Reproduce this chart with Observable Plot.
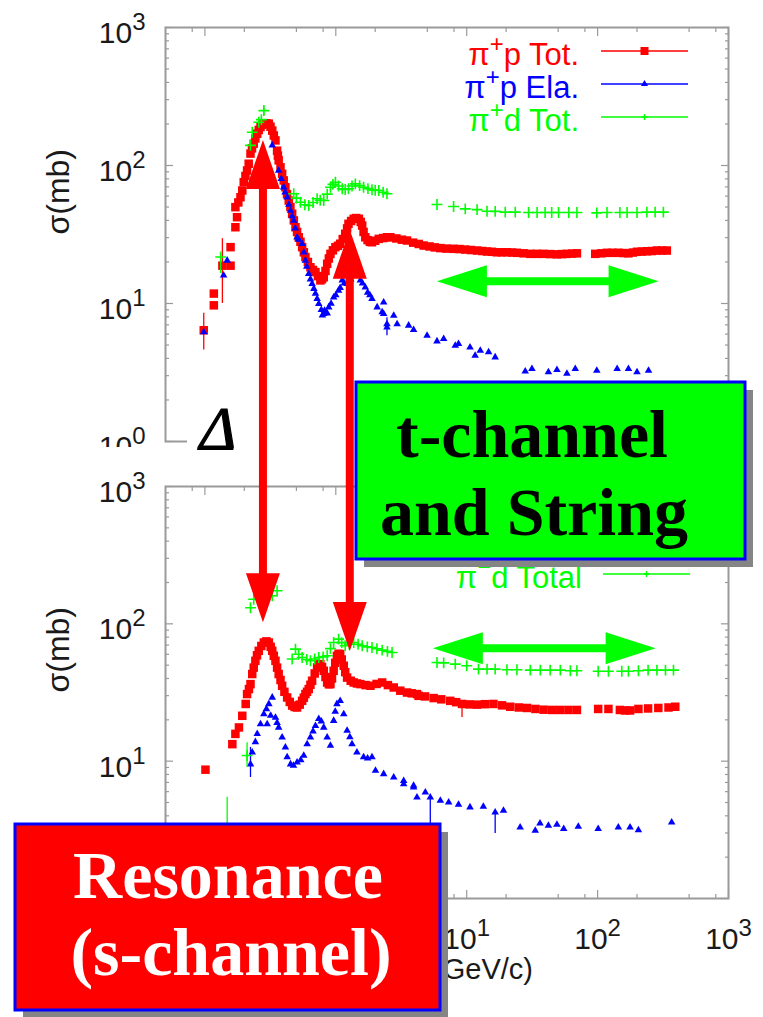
<!DOCTYPE html>
<html>
<head>
<meta charset="utf-8">
<script src="https://cdn.jsdelivr.net/npm/d3@7"></script>
<script src="https://cdn.jsdelivr.net/npm/@observablehq/plot@0.6"></script>
<style>
html,body{margin:0;padding:0;background:#fff;}
#wrap{position:relative;width:763px;height:1017px;overflow:hidden;background:#fff;}
#top{position:absolute;left:0;top:0;width:763px;height:447px;overflow:hidden;}
#bot{position:absolute;left:0;top:447px;width:763px;height:570px;overflow:hidden;background:#fff;}
#ov{position:absolute;left:0;top:0;pointer-events:none;}
</style>
</head>
<body>
<div id="wrap"><div id="top"></div><div id="bot"></div><svg id="ov" width="763" height="1017" xmlns="http://www.w3.org/2000/svg"></svg></div>
<script>
// ---------------- axes / ticks ----------------
const xDomain = [0.05, 1000];
const yDomain = [1, 1000];
const xDecades = [0.1, 1, 10, 100, 1000];
const yDecades = [1, 10, 100, 1000];
const xMinor = [0.08, 0.2, 0.5, 0.8, 2, 5, 8, 20, 50, 80, 200, 500, 800];
const yMinor = [2, 3, 4, 5, 6, 7, 8, 9, 20, 30, 40, 50, 60, 70, 80, 90, 200, 300, 400, 500, 600, 700, 800, 900];
// tick labels that are visible (the others sit under the annotation box)
const topYLabels = [1, 10, 100, 1000];
const botYLabels = [10, 100, 1000];
const botXLabels = [10, 100, 1000];
const yLabel = "σ(mb)";
const xLabel = "p_lab (GeV/c)";

// ---------------- data: top panel (π+) [p (GeV/c), σ (mb)] ----------------
const pipTotal = [[0.098,6.4],[0.117,11.8],[0.117,9.7],[0.136,18.8],[0.157,18.8],[0.157,25.6],[0.171,35.7],[0.176,42.2],[0.171,49.9],[0.180,54],[0.187,58.9],[0.193,65.9],[0.198,75.7],[0.204,84],[0.210,92],[0.216,103],[0.223,122],[0.229,133],[0.236,144],[0.243,157],[0.251,170],[0.258,181],[0.266,190],[0.274,197],[0.282,201],[0.295,202],[0.308,201],[0.317,191],[0.327,179],[0.336,165],[0.346,152],[0.356,128],[0.361,118],[0.366,109],[0.378,97],[0.389,87],[0.400,78],[0.412,69.6],[0.424,62],[0.437,55.7],[0.450,50],[0.464,44.7],[0.478,40],[0.492,35.7],[0.506,33],[0.521,30.2],[0.537,28],[0.553,25.6],[0.570,23.5],[0.586,21.7],[0.612,20],[0.640,18.3],[0.669,17.5],[0.699,16.9],[0.730,15.8],[0.762,14.7],[0.785,15],[0.809,15.5],[0.834,17.2],[0.859,19.4],[0.885,21.2],[0.910,22.9],[0.950,24.3],[0.993,25.6],[1.04,26.2],[1.08,27.1],[1.13,29.3],[1.18,32.0],[1.22,35],[1.25,37.8],[1.31,39.6],[1.37,41.1],[1.43,41.6],[1.50,41.1],[1.55,39],[1.59,36.7],[1.63,33],[1.68,30.2],[1.75,28.8],[1.82,28],[1.89,27.8],[2.0,28.5],[2.13,29.4],[2.3,29.8],[2.46,30.2],[2.61,30.2],[2.9,29.6],[3.2,29],[3.5,28.6],[3.9,27.6],[4.3,27],[4.69,26.3],[5.2,25.9],[5.7,25.5],[6.29,25.2],[7.0,25],[7.94,24.9],[8.8,24.8],[9.75,24.6],[10.8,24.4],[12.0,24.2],[13.2,24],[14.3,23.8],[15.6,23.7],[17.0,23.5],[18.5,23.5],[20.3,23.5],[22.2,23.4],[24.2,23.3],[27.2,23.1],[30.6,22.9],[34.4,22.9],[38.6,22.9],[43.5,22.8],[48.9,22.7],[53.5,22.8],[58.3,22.9],[64,23],[69.5,23.1],[95.9,22.9],[107,23.1],[118,23.3],[130,23.3],[144,23.3],[158,23.2],[172,23.1],[186,23.4],[200,23.7],[218,23.8],[238,23.9],[260,24],[284,24.2],[310,24.2],[338,24.2]];
const pipElastic = [[0.098,6.2],[0.139,16],[0.148,20.5],[0.327,140],[0.366,92],[0.383,80],[0.400,69.6],[0.41,64],[0.425,58.9],[0.438,52],[0.451,47.2],[0.464,43],[0.477,39.9],[0.49,35],[0.506,30.2],[0.52,29],[0.553,27.1],[0.57,23.5],[0.586,20.5],[0.6,18.5],[0.621,16.4],[0.64,15],[0.659,13.9],[0.68,12.8],[0.699,11.8],[0.72,10.8],[0.741,9.95],[0.775,9],[0.79,8.2],[0.809,8.42],[0.82,8.9],[0.845,8.6],[0.86,8.5],[0.883,9.4],[0.92,10],[0.963,11.1],[1.0,11.5],[1.05,12.4],[1.08,13],[1.12,14.7],[1.16,14],[1.22,13.9],[1.26,15.2],[1.30,15],[1.37,16],[1.45,16.5],[1.54,14.7],[1.6,14],[1.68,13.1],[1.75,12],[1.82,11.5],[1.89,10.8],[2.07,9.4],[2.26,8.65],[2.32,10.2],[2.32,8.42],[2.46,7.1],[2.46,6.73],[2.77,8.18],[2.94,7.1],[3.60,6.93],[3.93,6.45],[4.98,5.86],[5.93,5.33],[6.67,5.55],[8.18,4.96],[8.66,5.1],[10.6,4.82],[11.6,4.2],[12.7,4.56],[14.7,4.44],[16.5,4.08],[28.0,3.23],[31.5,3.36],[42.1,3.18],[48.9,3.31],[58.3,3.1],[67.5,3.36],[98.6,3.27],[141,3.36],[172,3.36],[200,3.18],[245,3.27]];
const pidTotalPlus = [[0.132,21.7],[0.223,140],[0.230,174],[0.258,206],[0.27,215],[0.282,250],[0.477,62.4],[0.50,58],[0.537,54.2],[0.58,52],[0.621,51.3],[0.67,54],[0.720,57.4],[0.76,56],[0.809,55.7],[0.86,62],[0.910,69.6],[0.95,73],[0.993,75.7],[1.05,71],[1.12,67.8],[1.18,67],[1.25,67.8],[1.33,71],[1.41,73.6],[1.52,71.5],[1.63,69.6],[1.76,68],[1.89,66.7],[2.0,66.2],[2.13,65.9],[2.3,64],[2.46,62.4],[5.93,52.2],[7.94,50.5],[9.75,48.5],[12.0,47.9],[14.3,46.6],[16.5,46.5],[19.7,45.9],[23.5,45.9],[29.7,45.6],[34.5,45.6],[39.7,45.6],[44.6,45.6],[50.3,45.6],[60.2,45.6],[69.5,45.6],[98.6,45.4],[118,45.6],[148,45.6],[168,45.6],[200,45.6],[238,45.9],[275,45.9],[318,45.9]];
// error bars [p, low, high]
const pipTotalErr = [[0.098,4.6,8.5],[0.136,10,29.5]];
const pipElasticErr = [[2.46,5.85,7.9]];
const pidTotalPlusErr = [[0.132,16.5,23],[0.282,230,271]];

// ---------------- data: bottom panel (π−) ----------------
const pimTotal = [[0.101,8.67],[0.162,13.3],[0.171,15.8],[0.182,17.6],[0.193,21.4],[0.205,26.1],[0.210,30.8],[0.217,33.5],[0.223,36.4],[0.230,43.1],[0.236,48],[0.243,53.8],[0.250,59],[0.258,63.6],[0.270,69],[0.282,73.1],[0.295,74.5],[0.308,73.1],[0.318,68],[0.327,63.6],[0.336,58.5],[0.346,53.8],[0.356,48],[0.366,43.1],[0.378,39],[0.389,35.4],[0.405,32],[0.425,29.1],[0.445,27],[0.464,25.4],[0.485,24.8],[0.506,24.6],[0.53,25.8],[0.553,27.5],[0.57,29],[0.586,30.8],[0.603,32],[0.621,33.5],[0.64,36],[0.659,38.5],[0.69,43.5],[0.720,48.1],[0.740,50],[0.762,50.9],[0.785,48.5],[0.809,45.5],[0.834,41],[0.859,37.4],[0.885,36.3],[0.910,36.4],[0.935,40],[0.963,45.5],[0.99,52],[1.02,58.5],[1.05,60.5],[1.08,60.2],[1.11,55],[1.15,49.5],[1.18,44.5],[1.22,40.6],[1.30,38.5],[1.37,37.4],[1.45,36.8],[1.54,36.4],[1.69,35.8],[1.84,35.4],[2.05,36.5],[2.26,37.4],[2.5,35.8],[2.77,34.4],[3.11,32.6],[3.50,31.6],[3.8,31.2],[4.17,30.8],[4.29,29.9],[4.8,29.6],[5.59,28.8],[6.4,28.2],[7.49,27.5],[8.3,26.9],[9.21,26.1],[10.5,25.9],[12.0,25.8],[13.8,26],[16.0,26.1],[18.6,25.5],[21.5,24.9],[25,24.6],[28.9,24.4],[33.5,24],[38.7,23.7],[45,23.6],[51.9,23.6],[60,23.6],[69.5,23.6],[101,24.0],[121,24.0],[148,23.6],[162,23.4],[177,23.4],[205,24.0],[243,24.2],[291,24.4],[348,24.6],[392,24.9]];
const pimElastic = [[0.223,9.5],[0.230,11.6],[0.243,13.8],[0.251,15.8],[0.266,18.6],[0.282,22],[0.295,24],[0.308,26.1],[0.327,29.1],[0.299,18.6],[0.318,21.5],[0.346,20.8],[0.356,19],[0.366,17.6],[0.389,14.9],[0.412,12.6],[0.425,10.7],[0.451,9.5],[0.475,9.3],[0.506,9.8],[0.54,10.2],[0.569,11],[0.604,13.3],[0.640,14.9],[0.67,16.5],[0.699,18.1],[0.741,20.3],[0.775,19.5],[0.809,17.6],[0.859,14.9],[0.910,13],[0.963,19.7],[0.99,23],[1.02,26.1],[1.08,27.5],[1.15,22],[1.22,16.7],[1.28,15],[1.33,13.3],[1.45,11.6],[1.63,10.7],[1.75,10.5],[1.89,10.7],[2.01,8.53],[2.32,8.07],[2.77,7.62],[3.30,6.82],[3.30,7.2],[3.93,6.45],[3.93,6.63],[4.17,5.46],[4.83,5.92],[5.27,5.46],[6.29,5.16],[7.28,5.02],[8.66,4.83],[10.6,4.62],[13.4,4.67],[16.5,4.24],[19.1,4.37],[25.6,3.3],[33.4,3.12],[36.3,3.53],[42.1,3.39],[48.9,3.45],[55.1,3.21],[71.2,3.34],[101,3.21],[144,3.3],[177,3.3],[205,3.15],[368,3.58]];
const pidTotalMinus = [[0.210,11],[0.223,131],[0.236,151],[0.327,160],[0.356,174],[0.464,55.4],[0.492,65.4],[0.52,60],[0.553,56.9],[0.6,55],[0.640,53.8],[0.69,55.5],[0.741,56.9],[0.80,57.5],[0.859,58.5],[0.91,66],[0.963,73.1],[1.05,77.4],[1.11,73],[1.18,69.2],[1.27,71],[1.37,73.1],[1.48,71],[1.59,69.2],[1.74,68],[1.89,67.3],[2.06,65.8],[2.26,64.4],[2.48,63],[2.69,61.8],[5.93,52.3],[6.67,52],[8.18,50.9],[10.0,49.5],[12.3,46.8],[14.3,46.8],[16.5,46.8],[20.3,46.3],[24.2,46.3],[30.6,46],[36.5,46],[43.4,46],[51.9,46],[61.9,45.5],[69.5,45.5],[101,45.2],[121,45.2],[153,45.2],[172,45.2],[205,45.5],[243,46],[284,46],[330,46],[380,46]];
const pimTotalErr = [[9.21,20.8,27.5],[0.586,26,32]];
const pimElasticErr = [[0.223,7.6,12.6],[5.27,3.5,5.46],[16.5,2.97,4.24]];
const pidTotalMinusErr = [[0.210,9,13.6],[0.148,3.0,5.45]];

// ---------------- legends & annotations ----------------
const legendTop = [
  {pre: "π", sup: "+", post: "p Tot.", series: "total"},
  {pre: "π", sup: "+", post: "p Ela.", series: "elastic"},
  {pre: "π", sup: "+", post: "d Tot.", series: "deuteron"}
];
// only the last row of the lower legend is visible below the green box
const legendBottom = [
  {pre: "π", sup: "−", post: "d Total", series: "deuteron", row: 2}
];
// resonance arrows: momentum, σ at tip in top panel, σ at tip in bottom panel
const resonanceArrows = [{p: 0.280, topSigma: 152, botSigma: 102}, {p: 1.29, topSigma: 34, botSigma: 63}];
// string-region double arrows
const stringArrows = [{panel: "top", sigma: 14.4, p1: 5.97, p2: 295}, {panel: "bottom", sigma: 65.8, p1: 5.56, p2: 280}];
const boxGreenText = ["t-channel", "and String"];
const boxRedText = ["Resonance", "(s-channel)"];
const deltaLabel = "Δ";

// ---------------- styling ----------------
const RED = "#ff0000", BLUE = "#0000ff", GREEN = "#00ff00";
const FRAME = "#9a9a9a";
const SANS = "'Liberation Sans', Arial, Helvetica, sans-serif";
const SERIF = "'Liberation Serif', 'Times New Roman', serif";
const seriesColor = {total: RED, elastic: BLUE, deuteron: GREEN};

const powLabel = d => "10^" + Math.round(Math.log10(d));
const none = () => "";
const px = d => d[0], py = d => d[1];

function tickAxes() {
  const o = {label: null, tickFormat: none, stroke: FRAME, strokeWidth: 1.2};
  return [
    Plot.axisY({...o, anchor: "left", ticks: yDecades, tickSize: -8}),
    Plot.axisY({...o, anchor: "left", ticks: yMinor, tickSize: -4}),
    Plot.axisY({...o, anchor: "right", ticks: yDecades, tickSize: -8}),
    Plot.axisY({...o, anchor: "right", ticks: yMinor, tickSize: -4}),
    Plot.axisX({...o, anchor: "top", ticks: xDecades, tickSize: -8}),
    Plot.axisX({...o, anchor: "top", ticks: xMinor, tickSize: -4}),
    Plot.axisX({...o, anchor: "bottom", ticks: xDecades, tickSize: -8}),
    Plot.axisX({...o, anchor: "bottom", ticks: xMinor, tickSize: -4})
  ];
}

function panel(cfg) {
  const marks = [
    Plot.frame({stroke: FRAME, strokeWidth: 2}),
    ...tickAxes(),
    Plot.axisY({anchor: "left", ticks: cfg.yLabels, tickSize: 0, tickPadding: 20, tickFormat: powLabel, fontSize: 30, dy: 6, label: null}),
    Plot.text([yLabel], {frameAnchor: "left", rotate: -90, dx: -107, fontSize: 32}),
    Plot.ruleX(cfg.totalErr, {x: px, y1: d => d[1], y2: d => d[2], stroke: RED, strokeWidth: 1.3}),
    Plot.dot(cfg.total, {x: px, y: py, symbol: "square", r: 4.8, fill: RED}),
    Plot.ruleX(cfg.elasticErr, {x: px, y1: d => d[1], y2: d => d[2], stroke: BLUE, strokeWidth: 1.3}),
    Plot.dot(cfg.elastic, {x: px, y: py, symbol: "triangle", r: 2.8, fill: BLUE}),
    Plot.ruleX(cfg.deutErr, {x: px, y1: d => d[1], y2: d => d[2], stroke: GREEN, strokeWidth: 1.3}),
    Plot.dot(cfg.deut, {x: px, y: py, symbol: "plus", r: 3.6, stroke: GREEN, strokeWidth: 1.6, fill: "none"})
  ];
  if (cfg.xLabels) {
    marks.push(Plot.axisX({anchor: "bottom", ticks: cfg.xLabels, tickSize: 0, tickPadding: 29, tickFormat: powLabel, fontSize: 30, label: null}));
    marks.push(Plot.text([xLabel], {frameAnchor: "bottom", textAnchor: "end", dx: 86, dy: 80, fontSize: 29}));
  }
  return Plot.plot({
    width: 763, height: cfg.height,
    marginTop: cfg.mt, marginBottom: cfg.mb, marginLeft: 165, marginRight: 35,
    x: {type: "log", domain: xDomain},
    y: {type: "log", domain: yDomain},
    style: {fontFamily: SANS, color: "#1a1a1a", background: "transparent", overflow: "visible"},
    marks
  });
}

const NS = "http://www.w3.org/2000/svg";
function prettify(svg) {
  svg.querySelectorAll("text").forEach(t => {
    const s = t.textContent;
    let m = /^10\^(-?\d+)$/.exec(s);
    if (m) {
      while (t.firstChild) t.removeChild(t.firstChild);
      t.appendChild(document.createTextNode("10"));
      const ts = document.createElementNS(NS, "tspan");
      ts.setAttribute("dy", "-0.55em");
      ts.setAttribute("font-size", "0.8em");
      ts.textContent = m[1].replace("-", "−");
      t.appendChild(ts);
      return;
    }
    if (s === xLabel) {
      while (t.firstChild) t.removeChild(t.firstChild);
      t.appendChild(document.createTextNode("p"));
      const a = document.createElementNS(NS, "tspan");
      a.setAttribute("dy", "6"); a.setAttribute("font-size", "20"); a.textContent = "lab";
      const b = document.createElementNS(NS, "tspan");
      b.setAttribute("dy", "-6"); b.textContent = " (GeV/c)";
      t.appendChild(a); t.appendChild(b);
    }
  });
}

const topPlot = panel({height: 480, mt: 27, mb: 39, yLabels: topYLabels, total: pipTotal, totalErr: pipTotalErr, elastic: pipElastic, elasticErr: pipElasticErr, deut: pidTotalPlus, deutErr: pidTotalPlusErr, xLabels: null});
const botPlot = panel({height: 570, mt: 39, mb: 119, yLabels: botYLabels, total: pimTotal, totalErr: pimTotalErr, elastic: pimElastic, elasticErr: pimElasticErr, deut: pidTotalMinus, deutErr: pidTotalMinusErr, xLabels: botXLabels});
prettify(topPlot); prettify(botPlot);
document.getElementById("top").appendChild(topPlot);
document.getElementById("bot").appendChild(botPlot);

const BOT_OFF = 447;
const sxT = topPlot.scale("x"), syT = topPlot.scale("y");
const sxB = botPlot.scale("x"), syB = botPlot.scale("y");
const XT = p => sxT.apply(p), YT = s => syT.apply(s);
const XB = p => sxB.apply(p), YB = s => syB.apply(s) + BOT_OFF;

// ---------------- overlay ----------------
const ov = d3.select("#ov");

function legend(g, rows, textEnd, lineX1, lineX2, baseline0, step) {
  rows.forEach((r, i) => {
    const c = seriesColor[r.series];
    const base = baseline0 + (r.row ?? i) * step;
    const ly = base - 14;
    const t = g.append("text").attr("x", textEnd).attr("y", base).attr("text-anchor", "end")
      .attr("fill", c).attr("font-size", 31).attr("font-family", SANS);
    t.append("tspan").text(r.pre);
    t.append("tspan").attr("dy", -13).attr("font-size", 24).text(r.sup);
    t.append("tspan").attr("dy", 13).text(r.post);
    g.append("line").attr("x1", lineX1).attr("x2", lineX2).attr("y1", ly).attr("y2", ly).attr("stroke", c).attr("stroke-width", 1.4);
    const mx = (lineX1 + lineX2) / 2;
    if (r.series === "total") g.append("rect").attr("x", mx - 4).attr("y", ly - 4).attr("width", 8).attr("height", 8).attr("fill", c);
    else if (r.series === "elastic") g.append("path").attr("d", d3.symbol(d3.symbolTriangle, 22)()).attr("transform", `translate(${mx},${ly})`).attr("fill", c);
    else g.append("path").attr("d", "M-3,0H3M0,-3V3").attr("transform", `translate(${mx},${ly})`).attr("stroke", c).attr("stroke-width", 1.4);
  });
}
legend(ov.append("g"), legendTop, 579, 601, 688, 65, 33);
legend(ov.append("g"), legendBottom, 582, 603, 690, 522, 33);

// Δ label (white patch hides the lower frame edge)
ov.append("rect").attr("x", 187).attr("y", 428).attr("width", 169).attr("height", 19).attr("fill", "#fff");
ov.append("text").attr("x", 218).attr("y", 449).attr("text-anchor", "middle")
  .attr("font-family", SERIF).attr("font-style", "italic").attr("font-size", 62)
  .attr("fill", "#000").attr("stroke", "#000").attr("stroke-width", 1.2).text(deltaLabel);

// red double arrows linking top and bottom panels
const HL = 49, HW = 17, SW = 4;
resonanceArrows.forEach(a => {
  const x = XT(a.p), yt = YT(a.topSigma), yb = YB(a.botSigma);
  const pts = [[x, yt], [x + HW, yt + HL], [x + SW, yt + HL], [x + SW, yb - HL], [x + HW, yb - HL], [x, yb],
               [x - HW, yb - HL], [x - SW, yb - HL], [x - SW, yt + HL], [x - HW, yt + HL]];
  ov.append("polygon").attr("points", pts.map(p => p.join(",")).join(" ")).attr("fill", RED);
});

// green horizontal double arrows
stringArrows.forEach(a => {
  const y = a.panel === "top" ? YT(a.sigma) : YB(a.sigma);
  const X = a.panel === "top" ? XT : XB;
  const x1 = X(a.p1), x2 = X(a.p2);
  const hl = 50, hw = 16, sw = 4;
  const pts = [[x1, y], [x1 + hl, y - hw], [x1 + hl, y - sw], [x2 - hl, y - sw], [x2 - hl, y - hw], [x2, y],
               [x2 - hl, y + hw], [x2 - hl, y + sw], [x1 + hl, y + sw], [x1 + hl, y + hw]];
  ov.append("polygon").attr("points", pts.map(p => p.join(",")).join(" ")).attr("fill", GREEN);
});

// annotation boxes
function box(x, y, w, h, fill, lines, color, cx, baselines) {
  ov.append("rect").attr("x", x + 8).attr("y", y + 8).attr("width", w).attr("height", h).attr("fill", "#858585");
  ov.append("rect").attr("x", x).attr("y", y).attr("width", w).attr("height", h).attr("fill", fill)
    .attr("stroke", BLUE).attr("stroke-width", 3);
  lines.forEach((s, i) => {
    ov.append("text").attr("x", cx[i]).attr("y", baselines[i]).attr("text-anchor", "middle")
      .attr("font-family", SERIF).attr("font-weight", "bold").attr("font-size", 68).attr("fill", color).text(s);
  });
}
box(356, 382, 389, 177, GREEN, boxGreenText, "#000", [532, 534], [457, 535]);
box(15, 824, 425, 186, RED, boxRedText, "#fff", [228, 231], [898, 975]);
</script>
</body>
</html>
